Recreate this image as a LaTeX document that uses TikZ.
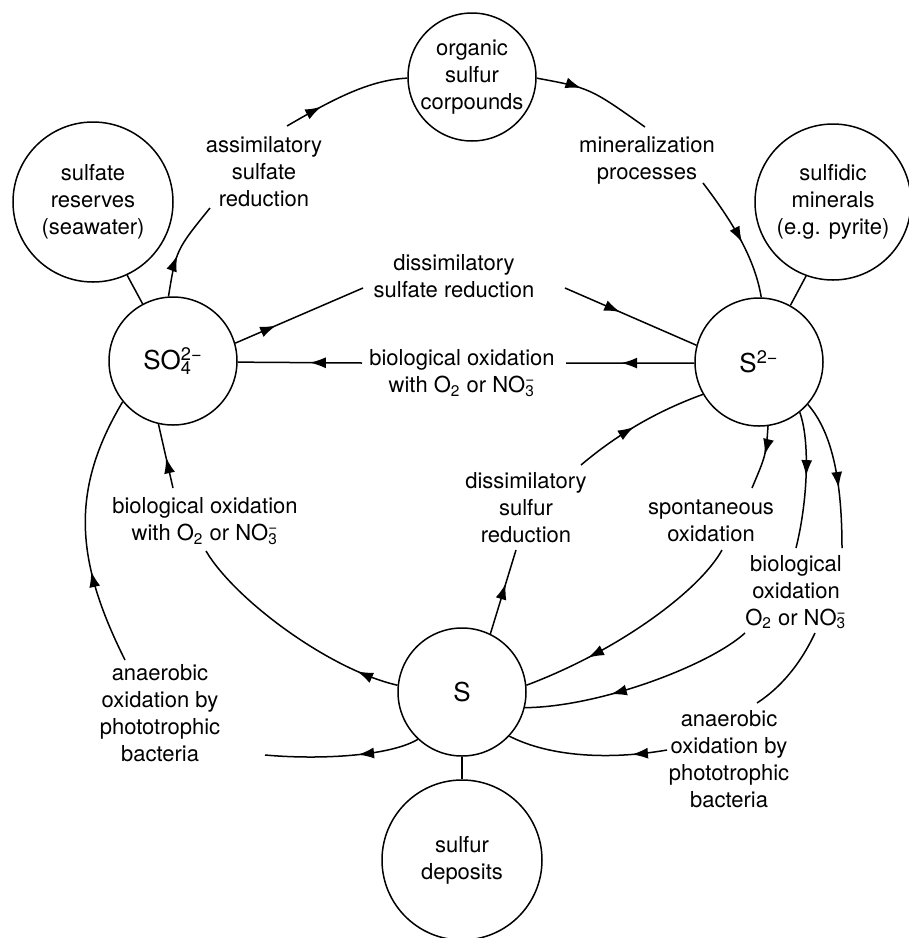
\documentclass[tikz,border=0pt]{standalone}
\usepackage{fontspec}
\setmainfont{TeX Gyre Heros}
\usetikzlibrary{arrows.meta, decorations.markings}

\newcommand{\oxy}{O\textsubscript{2}}
\newcommand{\nitrate}{NO\rlap{\textsubscript{3}}\textsuperscript{−}}
\newcommand{\sulfate}{SO\rlap{\textsubscript{4}}\textsuperscript{2−}}

\begin{document}
\begin{tikzpicture}[x=0.5pt, y=-0.5pt, line width=0.75pt,
    pool/.style={circle, draw, inner sep=0pt, align=center, minimum size=64pt, font=\fontsize{11}{13.5}\selectfont},
    bigpool/.style={pool, minimum size=80pt},
    species/.style={pool, font=\fontsize{13}{15}\selectfont},
    proc/.style={align=center, inner sep=0pt, font=\fontsize{11}{13.5}\selectfont},
    flow/.style={postaction={decorate}, decoration={markings, mark=at position #1 with {\arrow{Latex[length=8pt,width=5.5pt]}}}}]
    \useasboundingbox (0,0) rectangle (909,938);

    % pools of sulfur
    \node[pool] (organic) at (472,77) {organic\\sulfur\\corpounds};
    \node[bigpool] (reserves) at (93,202) {sulfate\\reserves\\(seawater)};
    \node[bigpool, minimum size=78pt] (minerals) at (833,202) {sulfidic\\minerals\\(e.g. pyrite)};
    \node[species] (so4) at (173,361) {\sulfate};
    \node[species] (s2) at (759,362) {S\textsuperscript{2−}};
    \node[species] (sulfur) at (462,692) {S};
    \node[bigpool] (deposits) at (462,860) {sulfur\\deposits};

    % processes
    \node[proc] (assim) at (264,172) {assimilatory\\sulfate\\reduction};
    \node[proc] (miner) at (647,160) {mineralization\\processes};
    \node[proc] (dissulf) at (454,276) {dissimilatory\\sulfate reduction};
    \node[proc] (biotop) at (462,373) {biological oxidation\\with \oxy{} or \nitrate};
    \node[proc] (bioleft) at (205,521) {biological oxidation\\with \oxy{} or \nitrate};
    \node[proc] (dissred) at (526,508) {dissimilatory\\sulfur\\reduction};
    \node[proc] (spont) at (711,521) {spontaneous\\oxidation};
    \node[proc] (bioright) at (796,592) {biological\\oxidation\\\oxy{} or \nitrate};
    \node[proc] (photoright) at (729,759) {anaerobic\\oxidation by\\phototrophic\\bacteria};
    \node[proc] (photoleft) at (160,713) {anaerobic\\oxidation by\\phototrophic\\bacteria};

    % line ends at the labels
    \coordinate (a1) at (210,208); \coordinate (a2) at (287,126);
    \coordinate (m1) at (645,127); \coordinate (m2) at (703,183);
    \coordinate (d1) at (363,288); \coordinate (d2) at (565,288);
    \coordinate (b1) at (566,363); \coordinate (b2) at (362,363);
    \coordinate (l1) at (206,551); \coordinate (l2) at (173,488);
    \coordinate (h1) at (265,755); \coordinate (h2) at (125,660);
    \coordinate (u1) at (516,550); \coordinate (u2) at (581,465);
    \coordinate (p1) at (752,488); \coordinate (p2) at (722,550);
    \coordinate (q1) at (796,548); \coordinate (q2) at (745,633);
    \coordinate (r1) at (842,548); \coordinate (r2) at (815,633);
    \coordinate (r3) at (757,703); \coordinate (r4) at (667,750);

    % sulfate -> organic sulfur -> sulfide
    \draw[flow=0.42] (so4.94) .. controls (176,250) .. (a1);
    \draw[flow=0.3] (a2) .. controls (335,98) and (370,80) .. (organic.181);
    \draw[flow=0.38] (organic.-1) .. controls (590,88) .. (m1);
    \draw[flow=0.55] (m2) .. controls (735,225) and (755,260) .. (s2.88);

    % sulfate <-> sulfide
    \draw[flow=0.32] (so4.16) -- (d1);
    \draw[flow=0.42] (d2) -- (s2.165);
    \draw[flow=0.57] (s2.181) -- (b1);
    \draw[flow=0.42] (b2) -- (so4.-1);

    % sulfur -> sulfate
    \draw[flow=0.18] (sulfur.174) .. controls (330,670) and (235,600) .. (l1);
    \draw[flow=0.48] (l2) -- (so4.257);
    \draw[flow=0.4] (sulfur.227) .. controls (390,756) and (320,760) .. (h1);
    \draw[flow=0.35] (h2) .. controls (75,560) and (70,490) .. (so4.219);

    % sulfur -> sulfide
    \draw[flow=0.6] (sulfur.64) -- (u1);
    \draw[flow=0.46] (u2) .. controls (620,432) and (660,410) .. (s2.210);

    % sulfide -> sulfur
    \draw[flow=0.45] (s2.278) .. controls (766,455) .. (p1);
    \draw[flow=0.72] (p2) .. controls (700,590) and (620,650) .. (sulfur.6);
    \draw[flow=0.47] (s2.309) .. controls (810,440) and (808,500) .. (q1);
    \draw[flow=0.63] (q2) .. controls (710,665) and (600,707) .. (sulfur.346);
    \draw[flow=0.6] (s2.319) .. controls (832,432) and (842,480) .. (r1);
    \draw (r2) .. controls (800,665) and (780,688) .. (r3);
    \draw[flow=0.22] (r4) .. controls (610,760) and (550,757) .. (sulfur.317);

    % reservoirs
    \draw (reserves.295) -- (so4.118);
    \draw (minerals.250) -- (s2.61);
    \draw (sulfur.south) -- (deposits.north);
\end{tikzpicture}
\end{document}
